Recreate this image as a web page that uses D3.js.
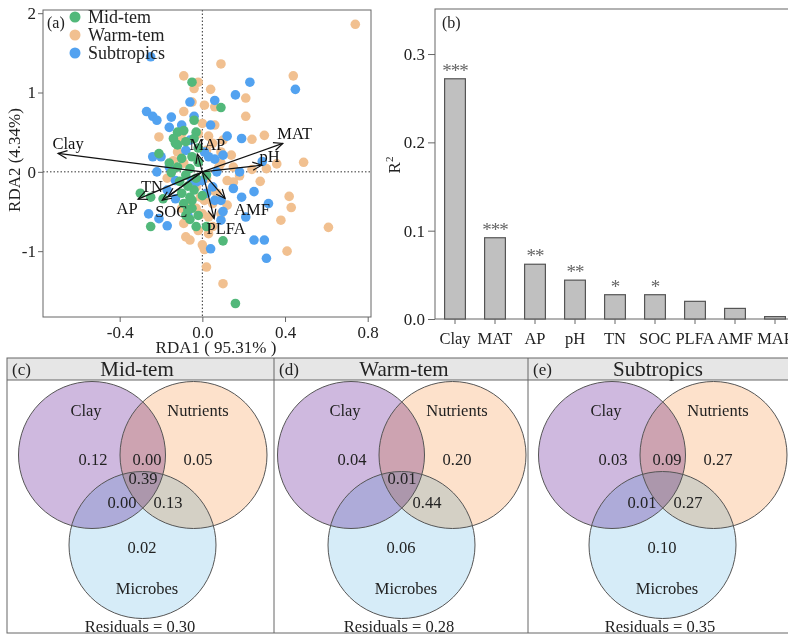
<!DOCTYPE html>
<html>
<head>
<meta charset="utf-8">
<script src="https://cdn.jsdelivr.net/npm/d3@7"></script>
<style>
  body { margin: 0; background: white; }
</style>
</head>
<body>
<div id="visualization"></div>
<script>
let w = 788;
let h = 635;
let serif = "'Times New Roman', 'Liberation Serif', serif";

// (a) RDA site scores, [RDA1, RDA2]
let groups = ["Mid-tem", "Warm-tem", "Subtropics"];
let groupColors = ["#52b87a", "#f1c090", "#52a2f0"];

let warmTem = [[0.74,1.86],[0.09,1.36],[-0.09,1.21],[-0.02,1.13],[-0.04,1.05],[0.04,1.04],[0.44,1.21],[0.21,0.93],
  [-0.05,0.88],[0.01,0.84],[0.06,0.82],[0.21,0.70],[-0.09,0.76],[0.00,0.61],[0.06,0.59],[-0.21,0.44],[-0.10,0.48],
  [0.30,0.46],[0.24,0.41],[0.14,0.21],[0.49,0.12],[0.36,0.10],[0.31,0.04],[0.28,-0.12],[0.42,-0.31],[0.43,-0.45],
  [0.38,-0.61],[0.61,-0.70],[0.41,-1.00],[0.02,-1.20],[0.10,-1.41],[-0.08,-0.82],[-0.06,-0.86],[-0.09,-0.65],
  [0.00,-0.92],[0.01,-0.98],[0.03,-0.78],[-0.09,0.11],[-0.17,-0.08],[0.05,0.36],[0.09,0.25],[0.08,0.06],[0.15,0.06],
  [0.24,0.03],[0.02,-0.08],[0.04,-0.23],[0.01,-0.36],[0.05,-0.40],[0.00,-0.53],[0.03,-0.57],[0.07,-0.27],[0.12,-0.42],
  [-0.03,-0.19],[-0.06,-0.38],[-0.12,0.25],[0.09,0.11],[-0.02,-0.74],[0.05,-0.69],[-0.02,0.48],[0.02,0.27],
  [0.15,-0.13],[0.12,-0.11],[-0.10,-0.46],[-0.03,-0.46],[-0.01,-0.32],[0.09,-0.53],[0.03,0.45],[0.10,0.40],
  [-0.14,0.14],[0.18,-0.05],[-0.10,0.40]];

let subtropics = [[-0.25,1.45],[0.23,1.13],[0.45,1.04],[0.16,0.97],[0.06,0.90],[-0.06,0.88],[-0.27,0.76],[-0.24,0.70],
  [-0.22,0.65],[-0.15,0.69],[-0.16,0.56],[-0.10,0.59],[-0.06,0.40],[-0.08,0.27],[0.04,0.59],[0.12,0.45],[0.19,0.42],
  [0.10,0.21],[0.03,0.19],[0.01,0.25],[-0.24,0.19],[-0.20,0.19],[-0.16,0.06],[-0.22,0.00],[0.07,0.00],[0.18,0.00],
  [0.29,0.13],[0.15,-0.21],[0.25,-0.25],[0.19,-0.32],[0.32,-0.40],[0.21,-0.57],[0.10,-0.50],[0.09,-0.61],[0.25,-0.86],
  [0.30,-0.86],[0.31,-1.09],[0.04,-0.97],[-0.26,-0.53],[-0.21,-0.59],[-0.17,-0.68],[-0.13,-0.34],[-0.13,-0.11],
  [-0.17,-0.23],[-0.05,-0.11],[0.00,-0.11],[0.02,-0.27],[0.06,-0.36],[-0.07,-0.55],[0.06,0.16],[-0.03,-0.13],
  [0.05,-0.19],[0.09,-0.36],[-0.04,0.70]];

let midTem = [[-0.05,1.13],[0.09,0.81],[-0.04,0.65],[-0.03,0.50],[-0.12,0.50],[-0.14,0.42],[-0.12,0.34],[-0.08,0.38],
  [-0.21,0.23],[-0.05,0.19],[-0.12,0.06],[-0.16,0.11],[-0.30,-0.27],[-0.25,-0.69],[-0.19,-0.34],[-0.03,-0.69],
  [-0.06,-0.32],[-0.05,-0.46],[-0.08,-0.55],[0.10,-0.87],[0.16,-1.66],[-0.25,-0.32],[-0.07,-0.18],[-0.04,-0.23],
  [-0.09,-0.40],[-0.05,-0.36],[-0.02,-0.55],[-0.06,-0.60],[-0.10,-0.27],[-0.03,-0.08],[-0.06,0.04],[-0.02,0.12],
  [-0.10,0.17],[-0.15,-0.01],[-0.08,-0.04],[0.00,-0.30],[-0.02,0.30],[-0.04,0.42],[-0.09,0.52],[0.02,-0.04],
  [-0.13,0.36],[0.02,-0.69],[-0.07,-0.48],[-0.11,-0.12]];

// (a) environmental arrows
let envVars = ["Clay", "MAT", "pH", "MAP", "TN", "AP", "SOC", "AMF", "PLFA"];
let envRDA1 = [-0.698, 0.389, 0.287, -0.024, -0.166, -0.311, -0.194, 0.110, 0.057];
let envRDA2 = [0.232, 0.358, 0.084, 0.223, -0.315, -0.344, -0.357, -0.336, -0.588];
let xTicksA = [-0.4, 0, 0.4, 0.8];
let yTicksA = [-1, 0, 1, 2];

// (b) R2 of each variable
let r2Vars = ["Clay", "MAT", "AP", "pH", "TN", "SOC", "PLFA", "AMF", "MAP"];
let r2Values = [0.272, 0.092, 0.062, 0.044, 0.0275, 0.0275, 0.020, 0.012, 0.0027];
let r2Stars = ["***", "***", "**", "**", "*", "*", "", "", ""];
let yTicksB = [0, 0.1, 0.2, 0.3];

// (c)-(e) variance partitioning
let vennTags = ["(c)", "(d)", "(e)"];
let vennTitles = ["Mid-tem", "Warm-tem", "Subtropics"];
let vennSets = ["Clay", "Nutrients", "Microbes"];
let clayOnly = [0.12, 0.04, 0.03];
let nutrientsOnly = [0.05, 0.20, 0.27];
let microbesOnly = [0.02, 0.06, 0.10];
let clayNutrients = [0.00, null, 0.09];
let clayMicrobes = [0.00, null, 0.01];
let nutrientsMicrobes = [0.13, 0.44, 0.27];
let allThree = [0.39, 0.01, null];
let residuals = [0.30, 0.28, 0.35];


let viz = d3.select("#visualization")
  .append("svg")
  .attr("width", w)
  .attr("height", h)
  .style("background-color", "white")
  .style("font-family", serif)
;

let defs = viz.append("defs");
defs.append("marker")
  .attr("id", "arrow")
  .attr("markerUnits", "userSpaceOnUse")
  .attr("markerWidth", 12)
  .attr("markerHeight", 12)
  .attr("refX", 10)
  .attr("refY", 5)
  .attr("orient", "auto")
  .append("path")
  .attr("d", "M1,1 L10,5 L1,9")
  .attr("fill", "none")
  .attr("stroke", "#111")
  .attr("stroke-width", 1.2)
;

function styleAxis(g, size){
  g.select(".domain").remove();
  g.selectAll("line").attr("stroke", "#666");
  g.selectAll("text")
    .attr("fill", "#222")
    .style("font-family", serif)
    .style("font-size", size + "px");
}

// ---------- panel (a) ----------
let ax = d3.scaleLinear().domain([-0.771, 0.816]).range([43, 371]);
let ay = d3.scaleLinear().domain([-1.83, 2.04]).range([317, 10]);

let pa = viz.append("g");

pa.append("line")
  .attr("x1", ax(0)).attr("x2", ax(0))
  .attr("y1", ay.range()[1]).attr("y2", ay.range()[0])
  .attr("stroke", "#333").attr("stroke-dasharray", "1.5,2");
pa.append("line")
  .attr("x1", ax.range()[0]).attr("x2", ax.range()[1])
  .attr("y1", ay(0)).attr("y2", ay(0))
  .attr("stroke", "#333").attr("stroke-dasharray", "1.5,2");

let scatter = [
  {data: warmTem, color: groupColors[1]},
  {data: subtropics, color: groupColors[2]},
  {data: midTem, color: groupColors[0]}
];
scatter.forEach(s => {
  pa.selectAll(null).data(s.data).enter()
    .append("circle")
    .attr("cx", d => ax(d[0]))
    .attr("cy", d => ay(d[1]))
    .attr("r", 4.8)
    .attr("fill", s.color);
});

let arrows = envVars.map((v, i) => ({name: v, x: envRDA1[i], y: envRDA2[i]}));
pa.selectAll(".arrow").data(arrows).enter()
  .append("line")
  .attr("class", "arrow")
  .attr("x1", ax(0)).attr("y1", ay(0))
  .attr("x2", d => ax(d.x)).attr("y2", d => ay(d.y))
  .attr("stroke", "#111")
  .attr("stroke-width", 1.2)
  .attr("marker-end", "url(#arrow)");

// label offsets from the arrow tips, in px
let labelShift = {Clay: [10, -10], MAT: [12, -10], pH: [8, -9], MAP: [10, -10], TN: [-16, -11],
  AP: [-11, 9], SOC: [9, 11], AMF: [27, 11], PLFA: [12, 10]};
pa.selectAll(".arrowlabel").data(arrows).enter()
  .append("text")
  .attr("class", "arrowlabel")
  .attr("x", d => ax(d.x) + labelShift[d.name][0])
  .attr("y", d => ay(d.y) + labelShift[d.name][1])
  .attr("dy", "0.35em")
  .attr("text-anchor", "middle")
  .attr("font-size", 16.5)
  .attr("fill", "#111")
  .text(d => d.name);

pa.append("rect")
  .attr("x", 43).attr("y", 10).attr("width", 328).attr("height", 307)
  .attr("fill", "none").attr("stroke", "#666");

pa.append("g")
  .attr("transform", "translate(43,0)")
  .call(d3.axisLeft(ay).tickValues(yTicksA).tickSize(5).tickPadding(2).tickFormat(d => String(d)))
  .call(g => styleAxis(g, 17));
pa.append("g")
  .attr("transform", "translate(0,317)")
  .call(d3.axisBottom(ax).tickValues(xTicksA).tickSize(5).tickPadding(4).tickFormat(d => d.toFixed(1)))
  .call(g => styleAxis(g, 17));

pa.append("text")
  .attr("transform", "translate(20,160) rotate(-90)")
  .attr("text-anchor", "middle")
  .attr("font-size", 17)
  .attr("fill", "#222")
  .text("RDA2 (4.34%)");
pa.append("text")
  .attr("x", 216).attr("y", 353)
  .attr("text-anchor", "middle")
  .attr("font-size", 17)
  .attr("fill", "#222")
  .text("RDA1 ( 95.31% )");

pa.append("text").attr("x", 47).attr("y", 28).attr("font-size", 16).attr("fill", "#222").text("(a)");

let legend = pa.selectAll(".legend").data(groups).enter()
  .append("g")
  .attr("class", "legend")
  .attr("transform", (d, i) => "translate(75," + (17 + i * 18) + ")");
legend.append("circle").attr("r", 5.5).attr("fill", (d, i) => groupColors[i]);
legend.append("text")
  .attr("x", 13).attr("dy", "0.33em")
  .attr("font-size", 18)
  .attr("fill", "#222")
  .text(d => d);

// ---------- panel (b) ----------
let bx = d3.scaleBand().domain(r2Vars).range([435, 795]).paddingInner(0.48).paddingOuter(0.24);
let by = d3.scaleLinear().domain([0, 0.351]).range([319, 9]);

let pb = viz.append("g");
pb.append("rect")
  .attr("x", 435).attr("y", 9).attr("width", 380).attr("height", 310)
  .attr("fill", "none").attr("stroke", "#666");

pb.selectAll(".bar").data(r2Values).enter()
  .append("rect")
  .attr("class", "bar")
  .attr("x", (d, i) => bx(r2Vars[i]))
  .attr("y", d => by(d))
  .attr("width", bx.bandwidth())
  .attr("height", d => by(0) - by(d))
  .attr("fill", "#c0c0c0")
  .attr("stroke", "#555")
  .attr("stroke-width", 1.2);

pb.selectAll(".star").data(r2Stars).enter()
  .append("text")
  .attr("class", "star")
  .attr("x", (d, i) => bx(r2Vars[i]) + bx.bandwidth() / 2)
  .attr("y", (d, i) => by(r2Values[i]) - 2)
  .attr("text-anchor", "middle")
  .attr("font-size", 19)
  .attr("letter-spacing", "-1px")
  .attr("fill", "#666")
  .text(d => d);

pb.append("g")
  .attr("transform", "translate(435,0)")
  .call(d3.axisLeft(by).tickValues(yTicksB).tickSize(7).tickPadding(3).tickFormat(d3.format(".1f")))
  .call(g => styleAxis(g, 17));
pb.append("g")
  .attr("transform", "translate(0,319)")
  .call(d3.axisBottom(bx).tickSize(5).tickPadding(8))
  .call(g => styleAxis(g, 16.5));

let r2Label = pb.append("text")
  .attr("transform", "translate(400,165) rotate(-90)")
  .attr("text-anchor", "middle")
  .attr("font-size", 17)
  .attr("fill", "#222");
r2Label.append("tspan").text("R");
r2Label.append("tspan").attr("font-size", 11).attr("dy", -7).text("2");

pb.append("text").attr("x", 442).attr("y", 28).attr("font-size", 16).attr("fill", "#222").text("(b)");

// ---------- panels (c)-(e) ----------
let panelLeft = [7, 274, 528];
let panelRight = [274, 528, 800];
let clayOffset = [85, 77, 84];
let vennColors = ["#cfb9df", "#fde1cb", "#d6ecf8"];
let vTop = 358, head = 22, vBottom = 633;
let r = 73.5;

let pv = viz.append("g");

vennTitles.forEach((title, i) => {
  let x0 = panelLeft[i];
  let g = pv.append("g");
  g.append("rect")
    .attr("x", x0).attr("y", vTop).attr("width", panelRight[i] - x0).attr("height", head)
    .attr("fill", "#e6e6e6");
  g.append("text")
    .attr("x", x0 + 5).attr("y", vTop + head / 2).attr("dy", "0.35em")
    .attr("font-size", 17).attr("fill", "#222")
    .text(vennTags[i]);
  g.append("text")
    .attr("x", x0 + 130).attr("y", vTop + head / 2).attr("dy", "0.35em")
    .attr("text-anchor", "middle")
    .attr("font-size", 21).attr("fill", "#222")
    .text(title);

  let cx = x0 + clayOffset[i];
  let cy = 455;
  let circles = [[cx, cy], [cx + 101.5, cy], [cx + 50.5, cy + 90]];
  let cg = g.append("g").style("isolation", "isolate");
  cg.selectAll("circle").data(circles).enter()
    .append("circle")
    .attr("cx", d => d[0]).attr("cy", d => d[1]).attr("r", r)
    .attr("fill", (d, j) => vennColors[j])
    .style("mix-blend-mode", "multiply");
  cg.selectAll(".outline").data(circles).enter()
    .append("circle")
    .attr("class", "outline")
    .attr("cx", d => d[0]).attr("cy", d => d[1]).attr("r", r)
    .attr("fill", "none").attr("stroke", "#555").attr("stroke-width", 1);

  let labels = [
    {t: vennSets[0], x: cx - 6, y: cy - 45},
    {t: vennSets[1], x: cx + 106, y: cy - 45},
    {t: vennSets[2], x: cx + 55, y: cy + 133},
    {v: clayOnly[i], x: cx + 1, y: cy + 4},
    {v: clayNutrients[i], x: cx + 55, y: cy + 4},
    {v: nutrientsOnly[i], x: cx + 106, y: cy + 4},
    {v: allThree[i], x: cx + 51, y: cy + 23},
    {v: clayMicrobes[i], x: cx + 30, y: cy + 47},
    {v: nutrientsMicrobes[i], x: cx + 76, y: cy + 47},
    {v: microbesOnly[i], x: cx + 50, y: cy + 92},
    {t: "Residuals = " + residuals[i].toFixed(2), x: cx + 48, y: 626}
  ].filter(d => d.t !== undefined || d.v !== null);

  g.selectAll(".vlabel").data(labels).enter()
    .append("text")
    .attr("class", "vlabel")
    .attr("x", d => d.x).attr("y", d => d.y).attr("dy", "0.35em")
    .attr("text-anchor", "middle")
    .attr("font-size", 16.5)
    .attr("fill", "#222")
    .text(d => d.t !== undefined ? d.t : d.v.toFixed(2));
});

pv.append("rect")
  .attr("x", 7).attr("y", vTop).attr("width", 793).attr("height", vBottom - vTop)
  .attr("fill", "none").attr("stroke", "#666");
pv.append("line")
  .attr("x1", 7).attr("x2", 800).attr("y1", vTop + head).attr("y2", vTop + head)
  .attr("stroke", "#666");
pv.selectAll(".divider").data(panelLeft.slice(1)).enter()
  .append("line")
  .attr("x1", d => d).attr("x2", d => d)
  .attr("y1", vTop).attr("y2", vBottom)
  .attr("stroke", "#666");
</script>
</body>
</html>
